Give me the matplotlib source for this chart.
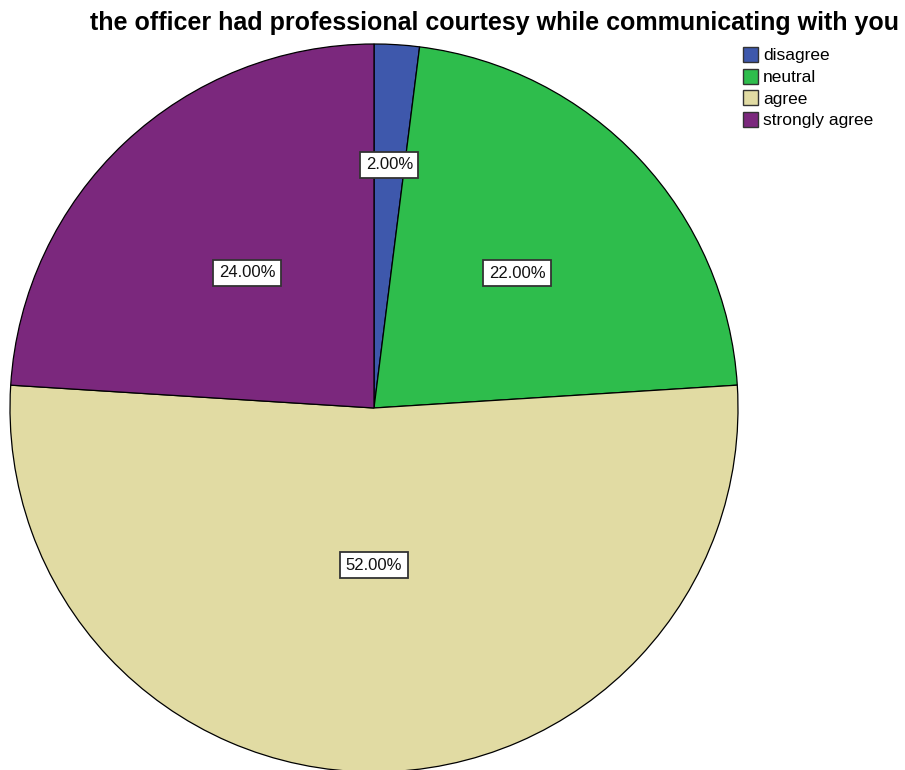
import numpy as np
import matplotlib.pyplot as plt
from matplotlib.patches import Patch

plt.rcParams['font.family'] = ['Liberation Sans', 'DejaVu Sans']

categories = ['disagree', 'neutral', 'agree', 'strongly agree']
percentages = [2.0, 22.0, 52.0, 24.0]
colors = ['#3e58ac', '#2ebd4c', '#e1dba3', '#7b287d']
label_radius = [0.67, 0.54, 0.432, 0.51]

W, H = 905, 770
fig = plt.figure(figsize=(W / 100, H / 100), dpi=100)
cx, cy, r = 374, 408, 364
ax = fig.add_axes([(cx - r) / W, (H - cy - r) / H, 2 * r / W, 2 * r / H])

wedges, _ = ax.pie(percentages, colors=colors, startangle=90, counterclock=False,
                   radius=1.0, wedgeprops=dict(edgecolor='black', linewidth=0.9))
ax.set_xlim(-1, 1)
ax.set_ylim(-1, 1)
ax.set_aspect('equal')
ax.axis('off')

for w, p, lr in zip(wedges, percentages, label_radius):
    ang = np.deg2rad((w.theta1 + w.theta2) / 2)
    ax.text(lr * np.cos(ang), lr * np.sin(ang), f'{p:.2f}%', ha='center', va='center',
            fontsize=12, color='#111111',
            bbox=dict(boxstyle='square,pad=0.33', facecolor='white', edgecolor='#333333', linewidth=1.3))

fig.text(494 / W, 1 - 23 / H, 'the officer had professional courtesy while communicating with you',
         ha='center', va='center', fontsize=18, fontweight='bold')

handles = [Patch(facecolor=c, edgecolor='#333333', linewidth=1.0) for c in colors]
fig.legend(handles, categories, loc='upper left', bbox_to_anchor=(743 / W, 1 - 47 / H),
           frameon=False, fontsize=12.5, handlelength=0.85, handleheight=0.95,
           handletextpad=0.3, labelspacing=0.3, borderaxespad=0, borderpad=0)

fig.savefig('out.png', dpi=100)
